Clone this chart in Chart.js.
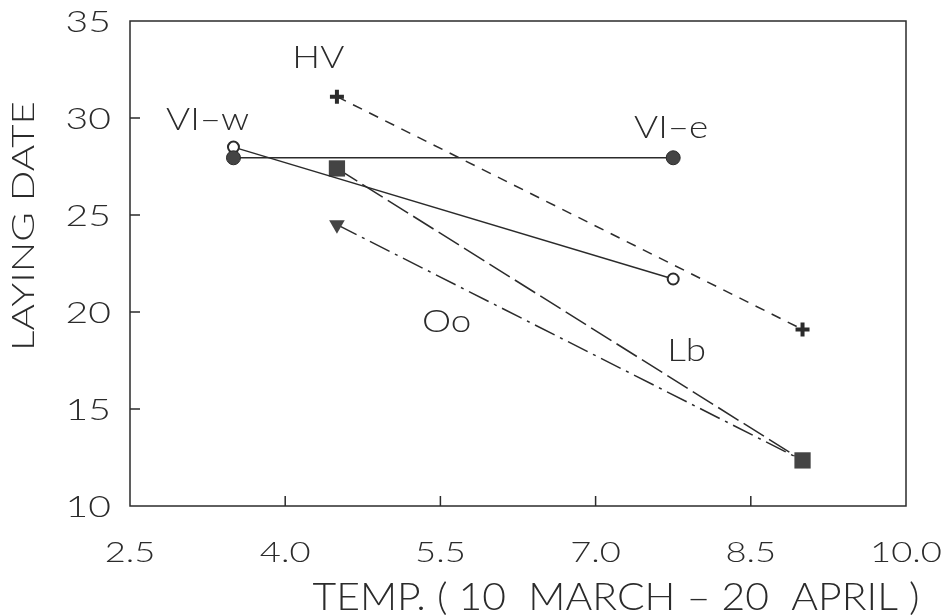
<!DOCTYPE html>
<html>
<head>
<meta charset="utf-8">
<script src="https://cdn.jsdelivr.net/npm/chart.js@4"></script>
<style>
  html, body { margin: 0; padding: 0; background: #fff; }
  #wrap { width: 947px; height: 616px; }
</style>
</head>
<body>
<div id="wrap"><canvas id="layChart" width="947" height="616"></canvas></div>
<script>
// values
const vlwTemp = [3.5, 7.75];
const vlwDate = [28.5, 21.7];
const vleTemp = [3.5, 7.75];
const vleDate = [27.95, 27.95];
const hvTemp = [4.5, 9.0];
const hvDate = [31.1, 19.1];
const lbTemp = [4.5, 9.0];
const lbDate = [27.4, 12.35];
const ooTemp = [4.5, 9.0];
const ooDate = [24.5, 12.35];

const xTicks = [2.5, 4.0, 5.5, 7.0, 8.5, 10.0];
const yTicks = [10, 15, 20, 25, 30, 35];

const labelNames = ['HV', 'VI\u2013w', 'VI\u2013e', 'Oo', 'Lb'];
const labelX = [4.32, 3.25, 7.73, 5.56, 7.88];
const labelY = [33.1, 29.9, 29.5, 19.5, 18.0];

const xTitle = 'TEMP. ( 10  MARCH \u2013 20  APRIL )';
const yTitle = 'LAYING DATE';

const ink = '#2b2b2b';
const fontFam = 'Lato, "DejaVu Sans", sans-serif';

function pts(xs, ys) {
  return xs.map((x, i) => ({ x: x, y: ys[i] }));
}

// the original lettering is a wide geometric face, so stretch it sideways
function wideText(ctx, text, x, y, size, sx, align) {
  ctx.save();
  ctx.font = '300 ' + size + 'px ' + fontFam;
  ctx.textAlign = align || 'center';
  ctx.textBaseline = 'middle';
  ctx.translate(x, y);
  ctx.scale(sx, 1);
  ctx.fillText(text, 0, 0);
  ctx.restore();
}

function fitScale(ctx, text, size, width) {
  ctx.font = '300 ' + size + 'px ' + fontFam;
  return width / ctx.measureText(text).width;
}

// frame, inward ticks, tick labels and texts
const decorPlugin = {
  id: 'decor',
  afterDraw(chart) {
    const ctx = chart.ctx;
    const a = chart.chartArea;
    const xs = chart.scales.x, ys = chart.scales.y;
    ctx.save();
    ctx.strokeStyle = ink;
    ctx.lineWidth = 1.5;
    ctx.strokeRect(a.left, a.top, a.right - a.left, a.bottom - a.top);

    ctx.beginPath();
    xTicks.slice(1, -1).forEach(v => {
      const px = xs.getPixelForValue(v);
      ctx.moveTo(px, a.bottom);
      ctx.lineTo(px, a.bottom - 10);
    });
    yTicks.slice(1, -1).forEach(v => {
      const py = ys.getPixelForValue(v);
      ctx.moveTo(a.left, py);
      ctx.lineTo(a.left + 10, py);
    });
    ctx.stroke();

    ctx.fillStyle = ink;
    xTicks.forEach(v => {
      wideText(ctx, v.toFixed(1), xs.getPixelForValue(v), a.bottom + 47, 28, 1.3, 'center');
    });
    yTicks.forEach(v => {
      wideText(ctx, String(v), a.left - 19, ys.getPixelForValue(v) + 2, 29, 1.35, 'right');
    });

    labelNames.forEach((t, i) => {
      wideText(ctx, t, xs.getPixelForValue(labelX[i]), ys.getPixelForValue(labelY[i]), 32, 1.15, 'center');
    });

    wideText(ctx, xTitle, 616, 598, 37, fitScale(ctx, xTitle, 37, 607), 'center');

    ctx.translate(24, 226);
    ctx.rotate(-Math.PI / 2);
    wideText(ctx, yTitle, 0, 0, 32, fitScale(ctx, yTitle, 32, 250), 'center');
    ctx.restore();
  }
};

const lineBase = {
  borderColor: ink,
  borderWidth: 1.5,
  pointBorderColor: ink,
  pointBackgroundColor: '#444',
  showLine: true,
  fill: false
};

function fixBox(s) {
  s.paddingLeft = 0; s.paddingRight = 0;
  s.paddingTop = 0; s.paddingBottom = 0;
}

new Chart(document.getElementById('layChart'), {
  type: 'scatter',
  data: {
    datasets: [
      Object.assign({}, lineBase, {
        label: 'VI-e', data: pts(vleTemp, vleDate),
        pointStyle: 'circle', pointRadius: 7, pointBorderWidth: 1
      }),
      Object.assign({}, lineBase, {
        label: 'VI-w', data: pts(vlwTemp, vlwDate),
        pointStyle: 'circle', pointRadius: 5.5, pointBorderWidth: 2,
        pointBackgroundColor: '#fff'
      }),
      Object.assign({}, lineBase, {
        label: 'HV', data: pts(hvTemp, hvDate), borderDash: [10, 8],
        pointStyle: 'cross', pointRadius: 7, pointBorderWidth: 4
      }),
      Object.assign({}, lineBase, {
        label: 'Lb', data: pts(lbTemp, lbDate), borderDash: [24, 6],
        pointStyle: 'rect', pointRadius: 11.5, pointBorderWidth: 0
      }),
      Object.assign({}, lineBase, {
        label: 'Oo', data: pts(ooTemp, ooDate), borderDash: [22, 6, 3, 6],
        pointStyle: 'triangle', pointRotation: 180,
        pointRadius: [9, 0], pointBorderWidth: 0
      })
    ]
  },
  options: {
    responsive: false,
    animation: false,
    layout: { padding: { left: 0, right: 41, top: 21, bottom: 0 } },
    plugins: {
      legend: { display: false },
      tooltip: { enabled: false }
    },
    scales: {
      x: {
        type: 'linear', min: 2.5, max: 10,
        afterFit: s => { s.height = 110; fixBox(s); },
        afterBuildTicks: s => { s.ticks = xTicks.map(v => ({ value: v })); },
        grid: { display: false, drawTicks: false },
        border: { display: false },
        ticks: { display: false }
      },
      y: {
        type: 'linear', min: 10, max: 35,
        afterFit: s => { s.width = 130; fixBox(s); },
        afterBuildTicks: s => { s.ticks = yTicks.map(v => ({ value: v })); },
        grid: { display: false, drawTicks: false },
        border: { display: false },
        ticks: { display: false }
      }
    }
  },
  plugins: [decorPlugin]
});
</script>
</body>
</html>
